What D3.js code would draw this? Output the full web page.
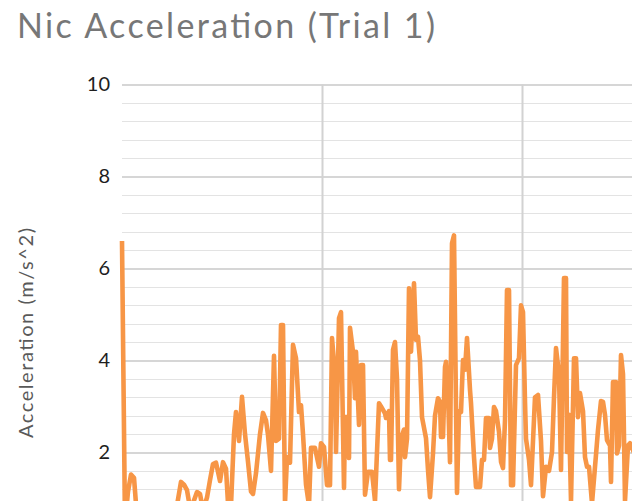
<!DOCTYPE html>
<html>
<head>
<meta charset="utf-8">
<script src="https://cdn.jsdelivr.net/npm/d3@7/dist/d3.min.js"></script>
<style>
    body { margin: 0; background: #fff; }
    svg { display: block; font-family: Lato, "Open Sans", sans-serif; }
    .chart-title { font-family: Lato, sans-serif; font-size: 34px; }
</style>
</head>
<body>
<div id="chart"></div>
<script>
// Nic, trial 1 - time (s) and acceleration (m/s^2)
const times = [
    0.000, 0.015, 0.030, 0.045, 0.060, 0.075, 0.095, 0.115, 0.135, 0.155,
    0.175, 0.195, 0.215, 0.235, 0.255, 0.275, 0.295, 0.310, 0.325, 0.340,
    0.355, 0.375, 0.390, 0.405, 0.425, 0.440, 0.455, 0.470, 0.490, 0.505,
    0.520, 0.530, 0.545, 0.560, 0.570, 0.585, 0.600, 0.615, 0.630, 0.645,
    0.655, 0.670, 0.690, 0.705, 0.720, 0.730, 0.745, 0.760, 0.770, 0.785,
    0.795, 0.805, 0.815, 0.825, 0.840, 0.855, 0.870, 0.885, 0.895, 0.905,
    0.920, 0.935, 0.945, 0.965, 0.985, 0.995, 1.010, 1.025, 1.040, 1.050,
    1.065, 1.070, 1.085, 1.095, 1.110, 1.115, 1.125, 1.135, 1.140, 1.155,
    1.165, 1.170, 1.185, 1.195, 1.205, 1.215, 1.230, 1.250, 1.265, 1.285,
    1.295, 1.315, 1.320, 1.335, 1.340, 1.345, 1.355, 1.365, 1.375, 1.385,
    1.395, 1.410, 1.415, 1.425, 1.435, 1.445, 1.460, 1.470, 1.480, 1.490,
    1.500, 1.520, 1.530, 1.540, 1.555, 1.565, 1.580, 1.590, 1.595, 1.605,
    1.615, 1.620, 1.630, 1.640, 1.650, 1.660, 1.675, 1.685, 1.695, 1.705,
    1.715, 1.725, 1.740, 1.745, 1.760, 1.770, 1.790, 1.800, 1.810, 1.820,
    1.835, 1.840, 1.850, 1.860, 1.870, 1.885, 1.895, 1.905, 1.915, 1.925,
    1.935, 1.945, 1.955, 1.970, 1.985, 1.995, 2.005, 2.015, 2.020, 2.035,
    2.045, 2.055, 2.065, 2.080, 2.095, 2.105, 2.120, 2.135, 2.150, 2.160,
    2.170, 2.185, 2.195, 2.210, 2.220, 2.225, 2.235, 2.245, 2.260, 2.270,
    2.280, 2.290, 2.305, 2.315, 2.325, 2.335, 2.350, 2.370, 2.380, 2.395,
    2.405, 2.415, 2.425, 2.440, 2.445, 2.455, 2.470, 2.475, 2.485, 2.495,
    2.505, 2.515, 2.530, 2.540, 2.560
];
const accel = [
    6.60, 0.45, 1.15, 1.52, 1.45, 0.60, 0.35, 0.55, 0.30, 0.50,
    0.25, 0.45, 0.60, 0.40, 0.70, 0.85, 1.36, 1.30, 1.18, 0.80,
    0.90, 1.14, 1.10, 0.75, 1.02, 1.40, 1.75, 1.78, 1.38, 1.79,
    1.65, 0.90, 0.85, 2.40, 2.88, 2.25, 3.21, 2.40, 1.80, 1.15,
    1.10, 1.55, 2.40, 2.86, 2.70, 2.38, 1.60, 4.10, 2.25, 2.30,
    4.77, 4.77, 0.90, 1.90, 1.78, 4.34, 4.05, 2.88, 3.03, 2.40,
    1.30, 0.85, 2.10, 2.10, 1.69, 2.20, 2.12, 1.29, 1.29, 4.49,
    3.68, 2.01, 4.92, 5.05, 1.23, 2.77, 2.77, 1.88, 4.71, 4.19,
    3.18, 4.19, 2.60, 3.90, 3.90, 1.08, 1.58, 1.58, 0.95, 3.07,
    3.00, 2.85, 2.75, 2.90, 1.84, 1.84, 4.23, 4.40, 3.60, 1.20,
    2.30, 2.50, 1.90, 2.30, 5.57, 4.19, 5.68, 4.45, 4.52, 4.00,
    2.77, 2.31, 1.62, 1.03, 1.98, 2.80, 3.18, 3.10, 2.34, 2.34,
    3.86, 3.97, 3.30, 1.79, 6.55, 6.72, 1.12, 2.90, 2.88, 4.01,
    3.80, 4.49, 3.36, 3.07, 1.90, 1.25, 1.25, 1.84, 1.84, 2.75,
    2.75, 2.10, 2.30, 2.99, 2.90, 2.45, 1.80, 1.66, 2.70, 5.53,
    5.53, 1.29, 1.29, 3.90, 4.05, 5.20, 5.05, 3.10, 2.30, 1.84,
    1.29, 2.25, 3.20, 3.25, 2.25, 1.05, 1.69, 1.60, 2.01, 3.20,
    4.27, 3.70, 1.62, 5.79, 5.79, 2.01, 2.82, 0.95, 4.05, 4.05,
    2.77, 3.29, 2.90, 1.90, 1.69, 1.69, 0.90, 1.95, 2.49, 3.12,
    3.10, 2.82, 2.27, 2.15, 1.36, 3.53, 3.53, 1.98, 2.15, 4.12,
    3.70, 0.95, 2.15, 2.20, 2.00
];
// the 0 label sits below the visible window, so only these are shown
const yTicks = [2, 4, 6, 8, 10];
const xGridTicks = [1, 2, 3];
const minorStep = 0.4;

const W = 632, H = 501;
// plot area runs past the bottom / right of the visible window
const plot = { left: 122, top: 84.5, width: 600, height: 460 };

const svg = d3.select("#chart").append("svg")
    .attr("width", W)
    .attr("height", H);

const x = d3.scaleLinear().domain([0, 3]).range([plot.left, plot.left + plot.width]);
const y = d3.scaleLinear().domain([0, 10]).range([plot.top + plot.height, plot.top]);

// Minor horizontal gridlines
const minorTicks = d3.range(0, 10 + 1e-9, minorStep).filter(v => Math.abs(v / 2 - Math.round(v / 2)) > 1e-6);
svg.append("g")
    .selectAll("line").data(minorTicks).enter().append("line")
    .attr("x1", plot.left).attr("x2", plot.left + plot.width)
    .attr("y1", d => Math.round(y(d)) + 0.5).attr("y2", d => Math.round(y(d)) + 0.5)
    .attr("stroke", "#e3e3e3").attr("stroke-width", 1.2);

// Major gridlines + y labels
const yAxis = svg.append("g")
    .attr("transform", `translate(${plot.left},0)`)
    .call(d3.axisLeft(y).tickValues(yTicks).tickSize(-plot.width).tickPadding(12).tickFormat(d3.format("d")))
    .call(g => g.select(".domain").remove());
yAxis.selectAll(".tick line").attr("stroke", "#c9c9c9").attr("stroke-width", 1.6);
yAxis.selectAll(".tick text")
    .attr("fill", "#1e1e1e")
    .style("font-size", "20px")
    .attr("font-family", "Lato, sans-serif");

// Vertical major gridlines
svg.append("g")
    .attr("transform", `translate(0,${plot.top + plot.height})`)
    .call(d3.axisBottom(x).tickValues(xGridTicks).tickSize(-plot.height).tickFormat(""))
    .call(g => g.select(".domain").remove())
    .call(g => g.selectAll(".tick line").attr("stroke", "#d2d2d2").attr("stroke-width", 2));

// Acceleration trace
const line = d3.line()
    .x((d, i) => x(times[i]))
    .y(d => y(d));

svg.append("path")
    .datum(accel)
    .attr("fill", "none")
    .attr("stroke", "#F79646")
    .attr("stroke-width", 4.6)
    .attr("stroke-linejoin", "round")
    .attr("d", line);

// Title
const title = svg.append("text")
    .attr("class", "chart-title")
    .attr("x", 17).attr("y", 38)
    .attr("fill", "#777777")
    .text("Nic Acceleration (Trial 1)");
// stretch to the reference width only if the font comes out narrower
if (title.node().getComputedTextLength() < 418) {
    title.attr("textLength", 418).attr("lengthAdjust", "spacing");
}

// Y axis title
svg.append("text")
    .attr("transform", `translate(33,333) rotate(-90)`)
    .attr("text-anchor", "middle")
    .attr("fill", "#595959")
    .style("font-size", "20px")
    .attr("textLength", 210)
    .attr("lengthAdjust", "spacing")
    .text("Acceleration (m/s^2)");
</script>
</body>
</html>
